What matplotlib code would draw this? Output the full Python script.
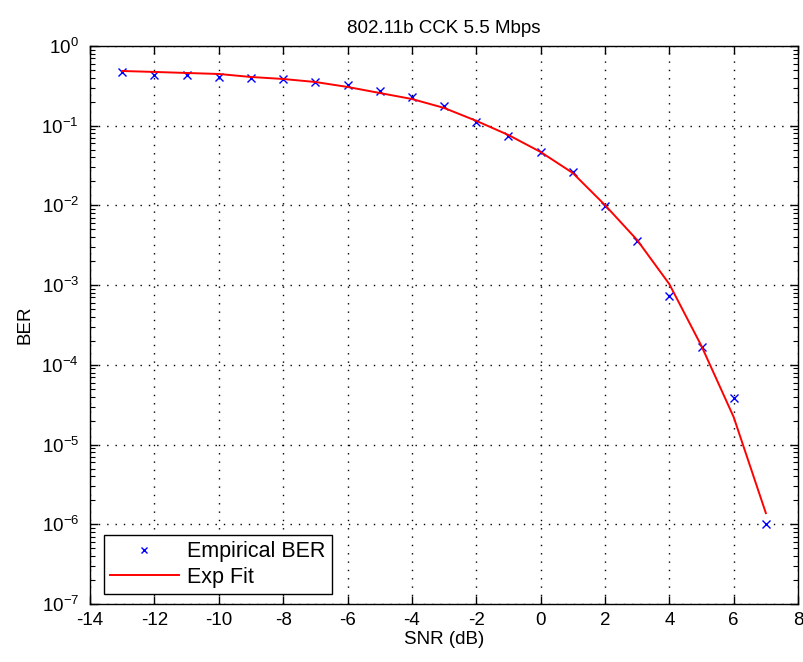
import numpy as np
import matplotlib
matplotlib.use('Agg')
import matplotlib.pyplot as plt
from matplotlib.ticker import LogLocator, FixedLocator

plt.rcParams['font.family'] = ['Liberation Sans', 'DejaVu Sans']
plt.rcParams['axes.unicode_minus'] = False
plt.rcParams['mathtext.fontset'] = 'custom'
plt.rcParams['mathtext.rm'] = 'Liberation Sans'
plt.rcParams['mathtext.it'] = 'Liberation Sans:italic'
plt.rcParams['mathtext.bf'] = 'Liberation Sans:bold'

# Empirical BER
snr = [-13, -12, -11, -10, -9, -8, -7, -6, -5, -4, -3, -2, -1,
       0, 1, 2, 3, 4, 5, 6, 7]
ber = [0.47, 0.43, 0.43, 0.41, 0.40, 0.385, 0.35, 0.32, 0.27, 0.23, 0.177,
       0.111, 0.074, 0.047, 0.026, 0.0099, 0.0036, 0.00072, 1.66e-4,
       3.8e-5, 1.0e-6]

# Exponential fit, evaluated at the same SNR points
fit = [0.485, 0.472, 0.458, 0.445, 0.408, 0.385, 0.353, 0.306, 0.257, 0.216,
       0.167, 0.115, 0.0764, 0.0468, 0.0255, 0.0101, 0.00368, 0.00103,
       1.72e-4, 2.21e-5, 1.38e-6]

fig = plt.figure(figsize=(8.04, 6.62), dpi=100)
fig.patch.set_facecolor('white')
ax = fig.add_axes([0.112, 0.0876, 0.8806, 0.843])

ax.semilogy(snr, ber, 'x', color='blue', markersize=6, markeredgewidth=1.0,
            label='Empirical BER')
ax.semilogy(snr, fit, '-', color='red', linewidth=1.4, label='Exp Fit')

ax.set_xlim(-14, 8)
ax.set_ylim(1e-7, 1)
ax.xaxis.set_major_locator(FixedLocator(np.arange(-14, 9, 2)))
ax.yaxis.set_major_locator(LogLocator(base=10, numticks=20))
ax.yaxis.set_minor_locator(LogLocator(base=10, subs=np.arange(2, 10), numticks=20))

ax.grid(True, which='major', linestyle=(0, (1, 5)), color='black', linewidth=1.0)
ax.tick_params(which='both', direction='in', top=True, right=True,
               labelsize=13.5, colors='black')
ax.tick_params(axis='x', which='major', pad=6)
ax.tick_params(axis='y', which='major', pad=8)
ax.tick_params(which='major', length=6, width=1)
ax.tick_params(which='minor', length=3.5, width=0.8)
for s in ax.spines.values():
    s.set_linewidth(1.0)

ax.set_title('802.11b CCK 5.5 Mbps', fontsize=13.5, pad=9)
ax.set_xlabel('SNR (dB)', fontsize=13.5, labelpad=1)
ax.set_ylabel('BER', fontsize=13.5, labelpad=6)

leg = ax.legend(loc='lower left', fontsize=15.5, frameon=True, fancybox=False,
                edgecolor='black', framealpha=1, handlelength=3.2,
                handletextpad=0.4, borderpad=0.3, labelspacing=0.2,
                borderaxespad=0.0, bbox_to_anchor=(0.019, 0.018),
                markerscale=0.8)
leg.get_frame().set_linewidth(1.0)

plt.savefig('out.png', dpi=100, facecolor='white')
